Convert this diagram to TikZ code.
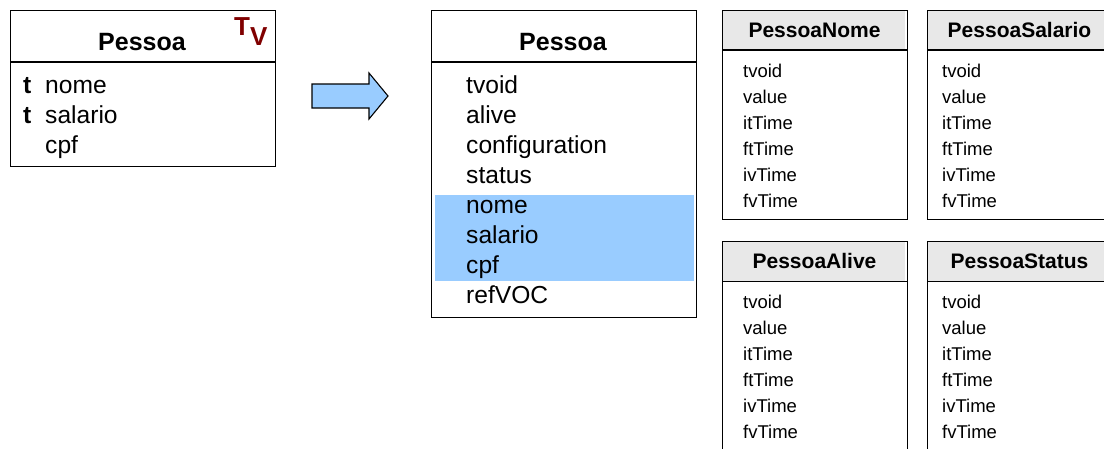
\documentclass[tikz,border=0pt]{standalone}
\usepackage{fontspec}
\setmainfont{Liberation Sans}
\definecolor{hilite}{RGB}{153,204,255}
\definecolor{hdrgray}{RGB}{232,232,232}
\definecolor{tvred}{RGB}{128,0,0}
\begin{document}
\begin{tikzpicture}[x=1pt,y=-1pt,
  frame/.style={draw=black, line width=1.3pt, rectangle, inner sep=0pt, anchor=north west},
  attr/.style={font=\fontsize{24.6}{28}\selectfont, inner sep=0pt, anchor=base west},
  title/.style={font=\fontsize{25}{28}\selectfont\bfseries, inner sep=0pt, anchor=base},
  col/.style={font=\fontsize{18.5}{22}\selectfont, inner sep=0pt, anchor=base west},
  coltitle/.style={font=\fontsize{21}{24}\selectfont\bfseries, inner sep=0pt, anchor=base},
  tv/.style={font=\fontsize{26}{30}\selectfont\bfseries, text=tvred, inner sep=0pt, anchor=base west}]
\clip (0,0) rectangle (1104,448);
\fill[white] (0,0) rectangle (1104,448);

% temporal class
\node[frame, minimum width=265pt, minimum height=156.5pt] (src) at (10,9.5) {};
\draw[line width=1.3pt] (src.west |- 0,62) -- (src.east |- 0,62);
\node[title] (srcT) at (142,50) {Pessoa};
\node[tv] (tv) at (234,35) {T\raisebox{-10pt}{V}};
\node[attr, font=\fontsize{24.6}{28}\selectfont\bfseries] (t1) at (23,93) {t};
\node[attr, font=\fontsize{24.6}{28}\selectfont\bfseries] (t2) at (23,123) {t};
\node[attr] (s1) at (45,93) {nome};
\node[attr] (s2) at (45,123) {salario};
\node[attr] (s3) at (45,153) {cpf};

% block arrow
\draw[line width=1.1pt, fill=hilite, line join=miter]
  (312,84) -- (369,84) -- (369,73) -- (388,96) -- (369,119) -- (369,108) -- (312,108) -- cycle;

% mapped class
\fill[hilite] (435,195) rectangle (694,281);
\node[frame, minimum width=265pt, minimum height=307.5pt] (dst) at (431,9.5) {};
\draw[line width=1.3pt] (dst.west |- 0,62) -- (dst.east |- 0,62);
\node[title] (dstT) at (563,50) {Pessoa};
\foreach \n/\txt [count=\i from 0] in {d1/tvoid,d2/alive,d3/configuration,d4/status,d5/nome,d6/salario,d7/cpf,d8/refVOC}
  \node[attr] (\n) at (466,93+30*\i) {\txt};

% attribute tables
\foreach \name/\label/\x/\y/\tx in {tnome/PessoaNome/722/9.5/743, tsal/PessoaSalario/927/9.5/942, talive/PessoaAlive/722/241/743, tstat/PessoaStatus/927/241/942}{
  \fill[hdrgray] (\x,\y) rectangle (\x+183,\y+40.5);
  \node[frame, minimum width=185pt, minimum height=209.5pt] (\name) at (\x,\y) {};
  \draw[line width=1.3pt] (\name.west |- 0,\y+40.5) -- (\name.east |- 0,\y+40.5);
  \node[coltitle] (\name-h) at (\x+92.5,\y+27.5) {\label};
  \foreach \f [count=\j from 0] in {tvoid,value,itTime,ftTime,ivTime,fvTime}
    \node[col] (\name-\j) at (\tx,\y+67.5+26*\j) {\f};
}
\end{tikzpicture}
\end{document}
